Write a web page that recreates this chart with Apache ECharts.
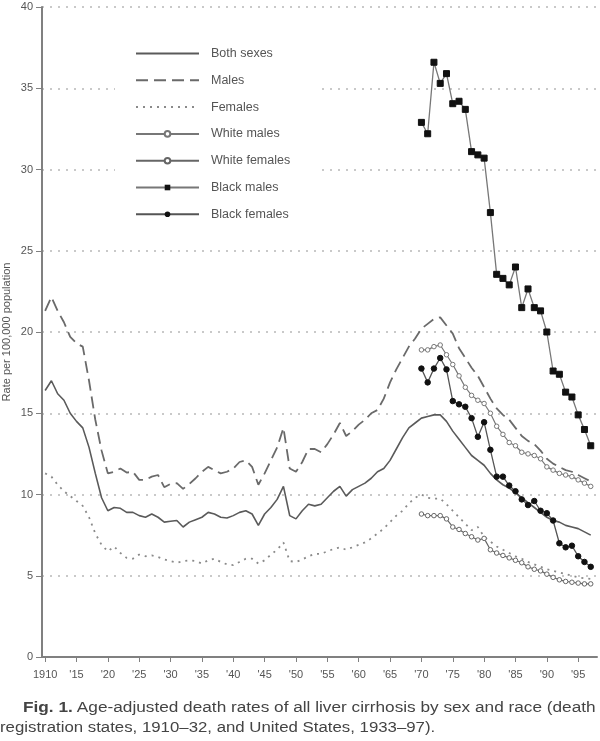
<!DOCTYPE html>
<html><head><meta charset="utf-8">
<script src="https://cdn.jsdelivr.net/npm/echarts@6/dist/echarts.min.js"></script>
<style>html,body{margin:0;padding:0;background:#fff}#c{width:600px;height:741px}</style>
</head><body><div id="c"></div>
<script>
var firstYear = 1910, lastYear = 1997, raceStart = 1970;
var tickYears = [1910,1915,1920,1925,1930,1935,1940,1945,1950,1955,1960,1965,1970,1975,1980,1985,1990,1995];
var tickLabels = ["1910","'15","'20","'25","'30","'35","'40","'45","'50","'55","'60","'65","'70","'75","'80","'85","'90","'95"];
var seriesNames = ["Both sexes","Males","Females","White males","White females","Black males","Black females"];

var bothSexes = [16.4,17.0,16.2,15.8,15.0,14.5,14.1,12.9,11.3,9.8,
 9.0,9.2,9.15,8.9,8.9,8.7,8.6,8.8,8.6,8.3,
 8.35,8.4,8.0,8.3,8.45,8.6,8.9,8.8,8.6,8.55,
 8.7,8.9,9.0,8.8,8.1,8.8,9.2,9.7,10.5,8.7,
 8.5,9.0,9.4,9.3,9.4,9.8,10.2,10.5,9.9,10.3,
 10.5,10.7,11.0,11.4,11.6,12.1,12.8,13.5,14.1,14.4,
 14.7,14.8,14.9,14.9,14.5,13.9,13.4,12.9,12.4,12.1,
 11.8,11.3,10.9,10.6,10.4,10.1,9.8,9.5,9.2,8.9,
 8.6,8.4,8.3,8.1,8.0,7.9,7.7,7.5];
var males = [21.3,22.15,21.3,20.6,19.7,19.3,19.1,17.0,14.6,12.7,
 11.3,11.4,11.6,11.35,11.4,10.9,10.9,11.1,11.2,10.45,
 10.65,10.7,10.35,10.65,11.0,11.4,11.7,11.5,11.3,11.4,
 11.6,12.0,12.1,11.7,10.6,11.3,12.1,12.9,14.1,11.6,
 11.4,12.0,12.8,12.8,12.6,13.1,13.7,14.4,13.6,13.9,
 14.3,14.6,15.0,15.2,15.9,16.9,17.7,18.4,19.1,19.6,
 20.2,20.5,20.8,20.9,20.4,19.9,19.0,18.4,17.8,17.3,
 16.6,15.9,15.3,14.9,14.6,14.1,13.6,13.3,13.1,12.7,
 12.2,11.9,11.7,11.5,11.4,11.2,11.0,10.8];
var females = [11.3,11.1,10.6,10.2,9.9,9.6,9.3,8.6,7.6,6.9,
 6.5,6.8,6.4,6.1,6.05,6.3,6.2,6.25,6.15,6.0,
 5.9,5.8,5.9,5.95,5.9,5.75,5.95,6.05,5.85,5.7,
 5.65,5.85,6.05,6.05,5.75,5.95,6.3,6.6,7.05,5.9,
 5.85,6.0,6.2,6.35,6.35,6.5,6.65,6.75,6.6,6.75,
 6.9,7.05,7.3,7.6,7.9,8.3,8.7,9.0,9.45,9.8,
 10.0,9.8,9.75,9.75,9.4,9.0,8.6,8.2,7.8,8.0,
 7.4,7.1,6.8,6.6,6.4,6.2,6.05,5.85,5.7,5.55,
 5.4,5.3,5.2,5.1,5.0,4.9,4.85,4.8];
var whiteMales = [18.9,18.9,19.1,19.2,18.6,18.0,17.3,16.6,16.1,15.8,15.6,15.0,14.2,13.7,13.2,13.0,12.6,12.5,12.4,12.2,11.7,11.5,11.3,11.2,11.1,10.9,10.7,10.5];
var whiteFemales = [8.8,8.7,8.7,8.7,8.5,8.0,7.85,7.6,7.4,7.2,7.3,6.6,6.4,6.25,6.1,5.95,5.8,5.55,5.4,5.3,5.1,4.9,4.75,4.65,4.6,4.55,4.5,4.5];
var blackMales = [32.9,32.2,36.6,35.3,35.9,34.05,34.2,33.7,31.1,30.9,30.7,27.35,23.55,23.3,22.9,24.0,21.5,22.65,21.5,21.3,20.0,17.6,17.4,16.3,16.0,14.9,14.0,13.0];
var blackFemales = [17.75,16.9,17.75,18.4,17.7,15.75,15.55,15.4,14.7,13.55,14.45,12.75,11.1,11.1,10.55,10.2,9.7,9.35,9.6,9.0,8.85,8.4,7.0,6.75,6.85,6.2,5.85,5.55];

function pairs(vals, start){ return vals.map(function(v,i){ return [start+i, v]; }); }

var FONT = 'Liberation Sans, Arial, sans-serif';
var chart = echarts.init(document.getElementById('c'), null, {renderer:'canvas'});
var hidden = {color:'rgba(0,0,0,0)', borderColor:'rgba(0,0,0,0)', borderWidth:0};
var option = {
  animation:false,
  backgroundColor:'#fff',
  grid:{left:42, right:3, top:7, bottom:84, containLabel:false, outerBoundsMode:'none'},
  legend:{
    orient:'vertical', left:115, top:32, padding:[15,26,15,20],
    backgroundColor:'#fff',
    itemWidth:63, itemHeight:7, itemGap:13.8,
    textStyle:{fontSize:12.5, color:'#555', fontFamily:FONT, padding:[0,0,0,7]},
    data:[
      {name:seriesNames[0], itemStyle:hidden},
      {name:seriesNames[1], itemStyle:hidden},
      {name:seriesNames[2], itemStyle:hidden},
      {name:seriesNames[3]},
      {name:seriesNames[4]},
      {name:seriesNames[5]},
      {name:seriesNames[6]}
    ]
  },
  xAxis:{
    type:'value', min:1909.5, max:1998,
    axisLine:{show:true, onZero:false, lineStyle:{color:'#808080', width:2}},
    axisTick:{show:true, length:5, customValues:tickYears, lineStyle:{color:'#808080'}},
    axisLabel:{customValues:tickYears, margin:12, fontSize:11, color:'#555', fontFamily:FONT,
      formatter:function(v){ var i = tickYears.indexOf(Math.round(v)); return i>=0 ? tickLabels[i] : ''; }},
    splitLine:{show:false}
  },
  yAxis:{
    type:'value', min:0, max:40, interval:5,
    name:'Rate per 100,000 population', nameLocation:'middle', nameGap:30, nameRotate:90, nameMoveOverlap:false,
    nameTextStyle:{fontSize:11, color:'#555', fontFamily:FONT},
    axisLine:{show:true, lineStyle:{color:'#808080', width:2}},
    axisTick:{show:true, length:6, lineStyle:{color:'#808080'}},
    axisLabel:{fontSize:11, color:'#555', margin:9, fontFamily:FONT},
    splitLine:{show:true, lineStyle:{color:'#b8b8b8', width:1.5, type:[2,6]}}
  },
  graphic:[
    {type:'text', left:23, top:701, scaleX:1.23, originX:0,
      style:{rich:{b:{fontWeight:'bold', fontSize:14, fill:'#444', fontFamily:FONT}, n:{fontSize:14, fill:'#444', fontFamily:FONT}}, text:'{b|Fig. 1.} {n|Age-adjusted death rates of all liver cirrhosis by sex and race (death}'}},
    {type:'text', left:0, top:721, scaleX:1.2, originX:0,
      style:{text:'registration states, 1910\u201332, and United States, 1933\u201397).', fontSize:14, fill:'#444', fontFamily:FONT}}
  ],
  series:[
    {name:seriesNames[0], type:'line', data:pairs(bothSexes, firstYear), showSymbol:false, symbol:'none',
      lineStyle:{color:'#5a5a5a', width:1.6}, itemStyle:{color:'#5a5a5a'}},
    {name:seriesNames[1], type:'line', data:pairs(males, firstYear), showSymbol:false, symbol:'none',
      lineStyle:{color:'#6a6a6a', width:1.8, type:[12,6]}, itemStyle:{color:'#6a6a6a'}},
    {name:seriesNames[2], type:'line', data:pairs(females, firstYear), showSymbol:false, symbol:'none',
      lineStyle:{color:'#8a8a8a', width:1.8, type:[2,5]}, itemStyle:{color:'#8a8a8a'}},
    {name:seriesNames[3], type:'line', data:pairs(whiteMales, raceStart), symbol:'circle', symbolSize:4.5,
      lineStyle:{color:'#777', width:1.2}, itemStyle:{color:'#fff', borderColor:'#777', borderWidth:1}},
    {name:seriesNames[4], type:'line', data:pairs(whiteFemales, raceStart), symbol:'circle', symbolSize:4.5,
      lineStyle:{color:'#666', width:1.2}, itemStyle:{color:'#fff', borderColor:'#666', borderWidth:1}},
    {name:seriesNames[5], type:'line', data:pairs(blackMales, raceStart), symbol:'rect', symbolSize:6,
      lineStyle:{color:'#777', width:1.3}, itemStyle:{color:'#111', borderColor:'#111'}},
    {name:seriesNames[6], type:'line', data:pairs(blackFemales, raceStart), symbol:'circle', symbolSize:5.5,
      lineStyle:{color:'#555', width:1.3}, itemStyle:{color:'#111', borderColor:'#111'}}
  ]
};
chart.setOption(option);
</script></body></html>
